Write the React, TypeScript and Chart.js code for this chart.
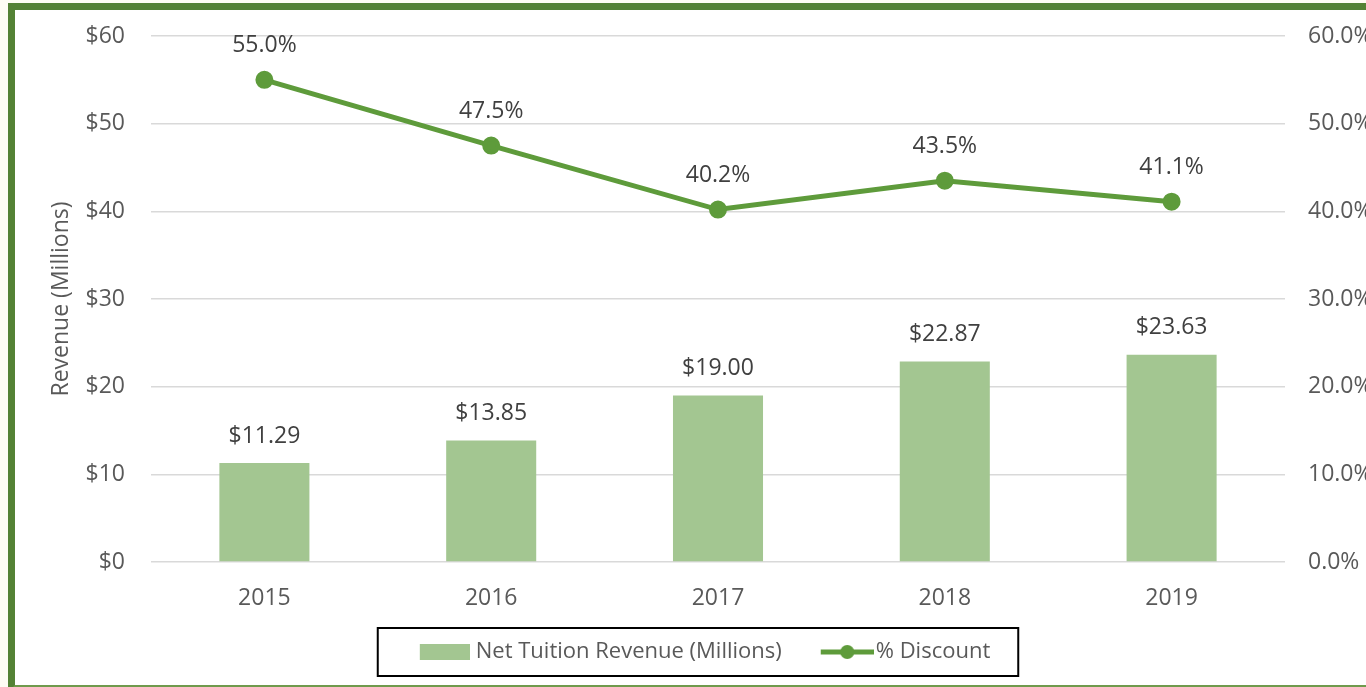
import React, { useEffect, useRef } from "react";
import { Chart, registerables } from "chart.js";

Chart.register(...registerables);

const years = ["2015", "2016", "2017", "2018", "2019"];
const revenue = [11.29, 13.85, 19.0, 22.87, 23.63];
const discount = [55.0, 47.5, 40.2, 43.5, 41.1];
const revenueTicks = [0, 10, 20, 30, 40, 50, 60];
const discountTicks = [0, 10, 20, 30, 40, 50, 60];
const seriesNames = ["Net Tuition Revenue (Millions)", "% Discount"];
const axisTitle = "Revenue (Millions)";

const BAR_COLOR = "#a3c691";
const LINE_COLOR = "#5e9b3b";
const TEXT = "#595959";
const LABEL_TEXT = "#404040";
const FONT = "'Open Sans', sans-serif";
const FS = 23;
const LEG_FS = 22;

function makeBarSwatch() {
  const c = document.createElement("canvas");
  c.width = 60;
  c.height = 16;
  const g = c.getContext("2d")!;
  g.fillStyle = BAR_COLOR;
  g.fillRect(10, 0, 50, 16);
  return c;
}
function makeLineSwatch() {
  const c = document.createElement("canvas");
  c.width = 68;
  c.height = 16;
  const g = c.getContext("2d")!;
  g.strokeStyle = LINE_COLOR;
  g.lineWidth = 5;
  g.beginPath();
  g.moveTo(15, 8);
  g.lineTo(68, 8);
  g.stroke();
  g.fillStyle = LINE_COLOR;
  g.beginPath();
  g.arc(41.5, 8, 7, 0, Math.PI * 2);
  g.fill();
  return c;
}

const labelsPlugin = {
  id: "valueLabels",
  afterDatasetsDraw(chart: any) {
    const ctx = chart.ctx;
    ctx.save();
    ctx.font = `${FS}px ${FONT}`;
    ctx.fillStyle = LABEL_TEXT;
    ctx.textAlign = "center";
    ctx.textBaseline = "middle";
    const barMeta = chart.getDatasetMeta(0);
    barMeta.data.forEach((el: any, i: number) => {
      ctx.fillText("$" + revenue[i].toFixed(2), el.x, el.y - 27);
    });
    const lineMeta = chart.getDatasetMeta(1);
    lineMeta.data.forEach((el: any, i: number) => {
      ctx.fillText(discount[i].toFixed(1) + "%", el.x, el.y - 34);
    });
    ctx.restore();
  },
};

const legendBoxPlugin = {
  id: "legendBox",
  afterDraw(chart: any) {
    const lg = chart.legend;
    if (!lg || !lg.legendHitBoxes || lg.legendHitBoxes.length < 2) return;
    const hb = lg.legendHitBoxes;
    const first = hb[0];
    const last = hb[hb.length - 1];
    const cy = first.top + first.height / 2;
    const left = first.left - 37;
    const right = last.left + last.width + 28;
    const ctx = chart.ctx;
    ctx.save();
    ctx.strokeStyle = "#000000";
    ctx.lineWidth = 2;
    ctx.strokeRect(left, cy - 24, right - left, 48);
    ctx.restore();
  },
};

export default function App() {
  const ref = useRef<HTMLCanvasElement>(null);
  useEffect(() => {
    if (!ref.current) return;
    const barSwatch = makeBarSwatch();
    const lineSwatch = makeLineSwatch();
    const chart = new Chart(ref.current, {
      type: "bar",
      data: {
        labels: years,
        datasets: [
          {
            type: "bar",
            label: seriesNames[0],
            data: revenue,
            backgroundColor: BAR_COLOR,
            yAxisID: "y",
            categoryPercentage: 1,
            barPercentage: 0.397,
          },
          {
            type: "line",
            label: seriesNames[1],
            data: discount,
            borderColor: LINE_COLOR,
            backgroundColor: LINE_COLOR,
            borderWidth: 5,
            pointRadius: 6.5,
            pointHoverRadius: 6.5,
            pointBackgroundColor: LINE_COLOR,
            pointBorderColor: LINE_COLOR,
            yAxisID: "y1",
            tension: 0,
          },
        ],
      } as any,
      options: {
        animation: false,
        responsive: false,
        devicePixelRatio: 1,
        layout: { padding: { left: 0, right: 0, top: 26, bottom: 12 } },
        font: { family: FONT, size: FS },
        plugins: {
          tooltip: { enabled: false },
          legend: {
            position: "bottom",
            labels: {
              font: { family: FONT, size: LEG_FS },
              color: TEXT,
              usePointStyle: true,
              pointStyleWidth: 50,
              padding: 33,
              generateLabels: (c: any) => {
                const items = (Chart.defaults.plugins.legend.labels as any).generateLabels(c);
                items.sort((a: any, b: any) => a.datasetIndex - b.datasetIndex);
                items.forEach((it: any) => {
                  it.pointStyle = it.datasetIndex === 0 ? barSwatch : lineSwatch;
                  it.fontColor = TEXT;
                });
                return items;
              },
            },
          },
        },
        scales: {
          x: {
            grid: { display: false },
            border: { display: false },
            ticks: { color: TEXT, font: { family: FONT, size: FS }, padding: 15 },
            afterFit: (s: any) => {
              s.height = 46;
            },
          },
          y: {
            position: "left",
            min: 0,
            max: 60,
            afterBuildTicks: (s: any) => {
              s.ticks = revenueTicks.map((v) => ({ value: v }));
            },
            ticks: {
              color: TEXT,
              font: { family: FONT, size: FS },
              padding: 26,
              callback: (v: any) => "$" + v,
            },
            grid: { color: "#d9d9d9", lineWidth: 1.5, drawTicks: false },
            border: { display: false },
            title: {
              display: true,
              text: axisTitle,
              color: TEXT,
              font: { family: FONT, size: FS },
              padding: { top: 33, bottom: 0 },
            },
            afterFit: (s: any) => {
              s.width = 136;
              s.paddingTop = 0;
              s.paddingBottom = 0;
            },
          },
          y1: {
            position: "right",
            min: 0,
            max: 60,
            afterBuildTicks: (s: any) => {
              s.ticks = discountTicks.map((v) => ({ value: v }));
            },
            ticks: {
              color: TEXT,
              font: { family: FONT, size: FS },
              padding: 23,
              callback: (v: any) => Number(v).toFixed(1) + "%",
            },
            grid: { display: false, drawTicks: false },
            border: { display: false },
            afterFit: (s: any) => {
              s.width = 105;
              s.paddingTop = 0;
              s.paddingBottom = 0;
            },
          },
        },
      } as any,
      plugins: [labelsPlugin, legendBoxPlugin],
    });
    return () => chart.destroy();
  }, []);

  return (
    <div
      style={{
        position: "fixed",
        left: 0,
        top: 0,
        width: 1366,
        height: 687,
        overflow: "hidden",
        background: "#fefdf4",
      }}
    >
      <div
        style={{
          position: "absolute",
          left: 8,
          top: 3,
          width: 1500,
          height: 675,
          background: "#ffffff",
          borderLeft: "7px solid #548235",
          borderTop: "7px solid #548235",
          borderBottom: "7px solid #6f9a4c",
        }}
      >
        <canvas
          ref={ref}
          width={1375}
          height={675}
          style={{ position: "absolute", left: 0, top: 0, width: 1375, height: 675 }}
        />
      </div>
    </div>
  );
}
